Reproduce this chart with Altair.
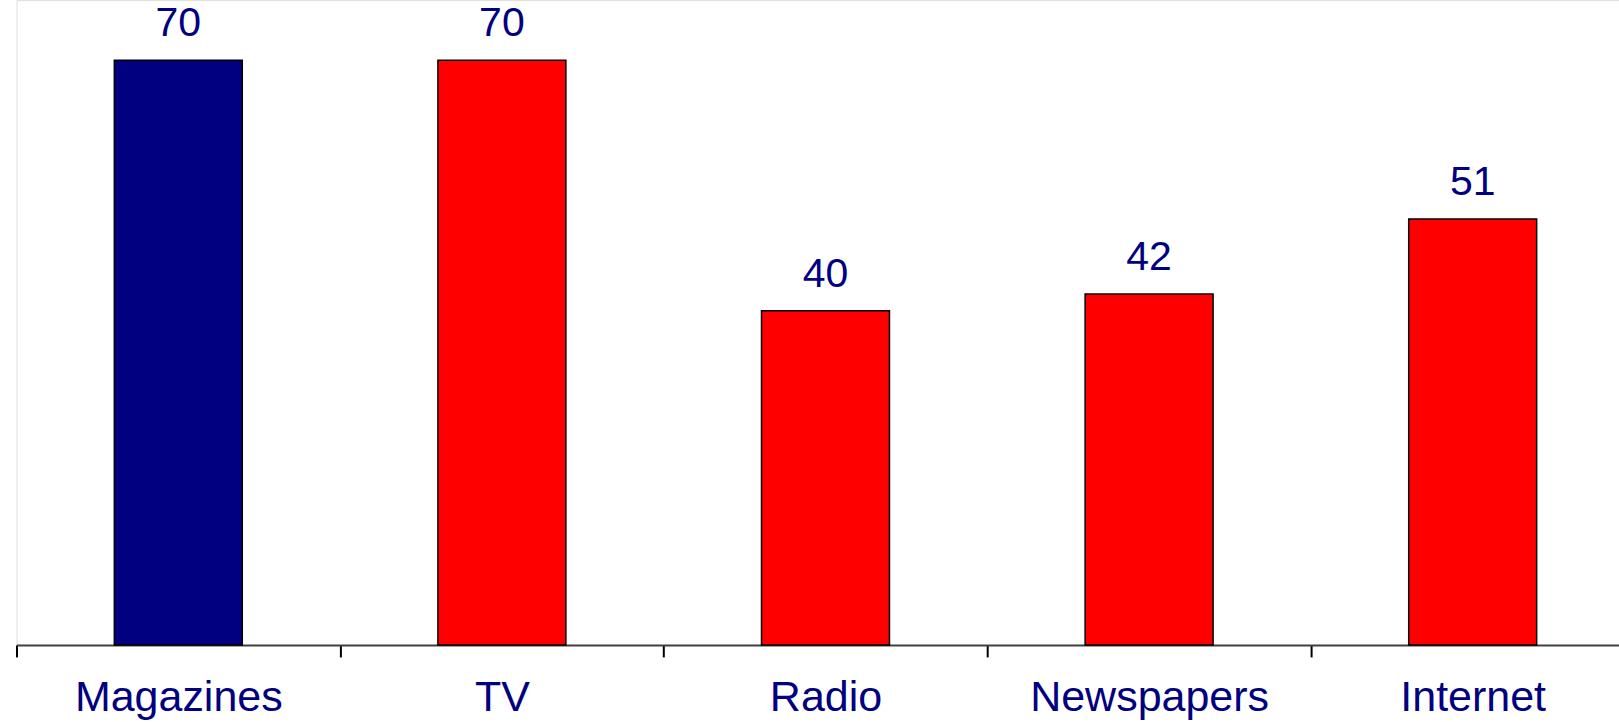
import altair as alt
import pandas as pd

categories = ["Magazines", "TV", "Radio", "Newspapers", "Internet"]
values = [70, 70, 40, 42, 51]
colors = ["#000080", "#FF0000", "#FF0000", "#FF0000", "#FF0000"]

df = pd.DataFrame({"cat": categories, "val": values, "col": colors})

x = alt.X(
    "cat:N",
    sort=categories,
    scale=alt.Scale(range=[0, 1618.5], paddingInner=0, paddingOuter=0),
    axis=alt.Axis(
        title=None,
        labelAngle=0,
        labelFont="Liberation Sans",
        labelFontSize=43,
        labelColor="#000080",
        labelBaseline="alphabetic",
        labelPadding=54,
        labelLimit=0,
        labelOverlap=False,
        tickBand="extent",
        tickSize=12,
        tickWidth=2,
        tickColor="#000000",
        domainColor="#404040",
        domainWidth=2,
        grid=False,
    ),
)
y = alt.Y(
    "val:Q",
    scale=alt.Scale(domain=[0, 77.2], nice=False, zero=True),
    axis=None,
)

base = alt.Chart(df).encode(x=x, y=y)

bars = base.mark_bar(size=128, stroke="#000000", strokeWidth=1.5).encode(
    color=alt.Color("col:N", scale=None)
)
labels = base.mark_text(
    baseline="alphabetic",
    dy=-24,
    font="Liberation Sans",
    fontSize=41,
    color="#000080",
).encode(text="val:Q")

chart = (
    alt.layer(bars, labels)
    .properties(
        width=1603,
        height=645,
        autosize=alt.AutoSizeParams(type="none"),
        padding={"left": 16.5, "top": 0, "right": 0, "bottom": 77},
    )
    .configure_view(stroke="transparent", strokeWidth=0)
    .configure(background="white")
)

chart.save("out.html", embed_options={"renderer": "svg", "actions": False})
